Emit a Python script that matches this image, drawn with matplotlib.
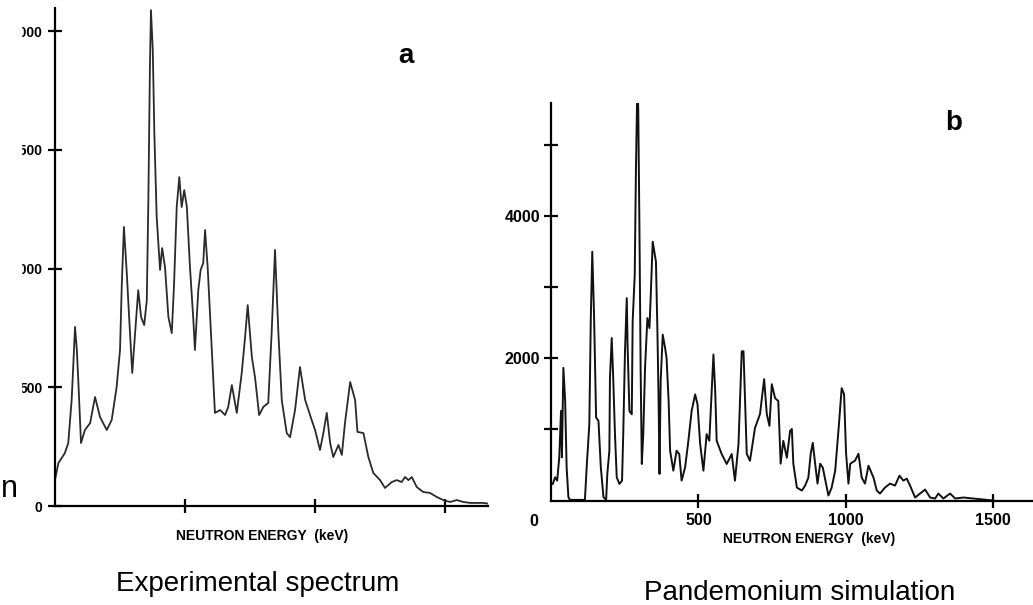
import matplotlib
matplotlib.use("Agg")
import matplotlib.pyplot as plt
from matplotlib.patches import Rectangle

# panel a: experimental spectrum
energy_a = [0, 13, 38, 51, 64, 70, 77, 84, 90, 100, 115, 135, 154, 173, 199, 218,
            237, 250, 257, 265, 276, 285, 297, 308, 320, 331, 343, 353, 359, 365,
            369, 376, 382, 391, 404, 412, 423, 436, 449, 458, 468, 478, 487, 497,
            507, 519, 532, 538, 551, 560, 570, 577, 587, 603, 615, 635, 654, 666,
            680, 699, 718, 731, 741, 757, 769, 785, 801, 820, 833, 846, 859, 872,
            891, 904, 923, 942, 962, 987, 1000, 1019, 1032, 1045, 1058, 1070, 1090,
            1103, 1115, 1135, 1154, 1163, 1186, 1205, 1224, 1250, 1269, 1295, 1314,
            1333, 1346, 1359, 1372, 1391, 1416, 1442, 1468, 1493, 1519, 1545, 1570,
            1596, 1647, 1665]
counts_a = [110, 181, 223, 265, 446, 585, 754, 657, 518, 265, 320, 349, 459, 375, 320,
            362, 501, 657, 939, 1175, 981, 796, 560, 728, 909, 796, 762, 867, 1288,
            1848, 2088, 1920, 1570, 1217, 994, 1086, 1006, 796, 728, 939, 1259, 1385,
            1259, 1330, 1259, 1006, 783, 657, 909, 994, 1023, 1162, 1006, 657, 392,
            404, 383, 417, 509, 392, 560, 712, 846, 627, 543, 383, 417, 434, 728,
            1078, 728, 446, 307, 290, 404, 585, 446, 362, 320, 236, 307, 392, 265,
            206, 257, 215, 349, 522, 446, 312, 307, 206, 139, 109, 76, 101, 109, 101,
            122, 109, 122, 80, 59, 55, 38, 25, 17, 25, 17, 13, 13, 10]

# panel b: pandemonium simulation
energy_b = [6, 14, 21, 28, 34, 37, 42, 48, 53, 59, 64, 115, 121, 130, 135, 140, 146,
            153, 161, 169, 178, 187, 191, 198, 200, 206, 211, 217, 223, 232, 241, 245,
            251, 257, 260, 266, 274, 277, 284, 288, 293, 296, 300, 304, 308, 313, 319,
            327, 334, 338, 345, 356, 361, 365, 368, 372, 379, 387, 392, 399, 404, 415,
            426, 435, 443, 455, 466, 477, 489, 497, 506, 517, 528, 537, 545, 551, 557,
            562, 579, 596, 613, 624, 636, 641, 647, 653, 664, 675, 692, 709, 723, 732,
            741, 749, 760, 771, 779, 788, 800, 811, 817, 822, 834, 851, 862, 873, 881,
            888, 896, 904, 913, 922, 933, 941, 952, 964, 975, 986, 994, 1001, 1009,
            1015, 1031, 1043, 1054, 1065, 1077, 1094, 1105, 1116, 1133, 1150, 1167,
            1182, 1195, 1207, 1218, 1235, 1252, 1269, 1286, 1303, 1314, 1331, 1354,
            1371, 1399, 1433, 1467, 1500]
counts_b = [233, 327, 280, 607, 1261, 607, 1868, 1401, 467, 47, 9, 9, 467, 1074, 2569,
            3503, 2615, 1168, 1121, 467, 47, 9, 374, 701, 1728, 2288, 1728, 934, 327,
            233, 280, 934, 2101, 2849, 2148, 1261, 1214, 2522, 3176, 4623, 5900, 5500,
            3829, 1868, 514, 934, 1868, 2569, 2428, 2849, 3643, 3362, 2382, 1401, 374,
            1681, 2335, 2148, 2008, 1401, 701, 420, 701, 654, 280, 467, 841, 1261,
            1494, 1354, 794, 420, 934, 841, 1541, 2055, 1541, 841, 654, 514, 654, 280,
            794, 1401, 2101, 2101, 658, 560, 1022, 1218, 1708, 1218, 1050, 1638, 1442,
            1400, 518, 840, 602, 980, 1008, 518, 182, 140, 210, 322, 658, 812, 518,
            238, 518, 462, 238, 70, 182, 420, 980, 1582, 1498, 658, 238, 518, 560, 658,
            322, 238, 490, 322, 140, 98, 182, 238, 210, 350, 280, 308, 210, 42, 98,
            154, 42, 28, 98, 28, 98, 28, 42, 28, 14, 0]

yticks_a = [0, 500, 1000, 1500, 2000]
yticks_b = [1000, 2000, 3000, 4000, 5000]
ylabels_b = ["", "2000", "", "4000", ""]
xticks = [500, 1000, 1500]

NARROW = ["Liberation Sans Narrow", "Liberation Sans", "DejaVu Sans"]
SANS = ["Liberation Sans", "DejaVu Sans"]

W, H = 1033, 605
fig = plt.figure(figsize=(W / 100, H / 100), dpi=100)

ax_a = fig.add_axes([55 / W, 1 - 506 / H, 433 / W, 498 / H])
ax_b = fig.add_axes([551 / W, 1 - 500.5 / H, 482 / W, 397.5 / H])

ax_a.plot(energy_a, counts_a, color="#2a2a2a", lw=1.3)
ax_b.plot(energy_b, counts_b, color="#111111", lw=1.4)

ax_a.set_xlim(0, 1665)
ax_a.set_ylim(0, 2097)
ax_b.set_xlim(0, 1635)
ax_b.set_ylim(0, 5597)

for ax in (ax_a, ax_b):
    for side in ("top", "right"):
        ax.spines[side].set_visible(False)
    for side in ("left", "bottom"):
        ax.spines[side].set_linewidth(1.6)
    ax.tick_params(direction="inout", length=10, width=1.6)
    ax.set_xticks(xticks)

ax_a.set_xticklabels([])
ax_a.set_yticks(yticks_a)
ax_a.set_yticklabels([str(v) for v in yticks_a], family=NARROW,
                     fontweight="bold", fontsize=10)
ax_a.tick_params(axis="y", pad=4)

ax_b.set_yticks(yticks_b)
ax_b.set_yticklabels(ylabels_b, family=NARROW, fontweight="bold", fontsize=11.5)
ax_b.set_xticklabels([str(v) for v in xticks], family=NARROW,
                     fontweight="bold", fontsize=11.5)
ax_b.tick_params(axis="y", pad=3)
ax_b.tick_params(axis="x", pad=4)

# cropped edge of the scan hides the left part of the panel a labels
fig.patches.append(Rectangle((0, 1 - 400 / H), 21 / W, 400 / H,
                             transform=fig.transFigure, color="white", zorder=10))

fig.text(534 / W, 1 - 521 / H, "0", family=NARROW, fontweight="bold",
         fontsize=11.5, ha="center", va="center")
fig.text(262 / W, 1 - 536 / H, "NEUTRON ENERGY  (keV)", family=NARROW,
         fontweight="bold", fontsize=10, ha="center", va="center")
fig.text(809 / W, 1 - 539 / H, "NEUTRON ENERGY  (keV)", family=NARROW,
         fontweight="bold", fontsize=10, ha="center", va="center")

fig.text(406 / W, 1 - 56 / H, "a", family=SANS, fontweight="bold",
         fontsize=20, ha="center", va="center")
fig.text(954 / W, 1 - 123 / H, "b", family=SANS, fontweight="bold",
         fontsize=20, ha="center", va="center")

fig.text(258 / W, 1 - 591 / H, "Experimental spectrum", family=SANS,
         fontsize=20, ha="center", va="baseline")
fig.text(800 / W, 1 - 600 / H, "Pandemonium simulation", family=SANS,
         fontsize=20, ha="center", va="baseline")
fig.text(1 / W, 1 - 497 / H, "n", family=SANS, fontsize=22,
         ha="left", va="baseline")

fig.savefig("out.png", dpi=100)
